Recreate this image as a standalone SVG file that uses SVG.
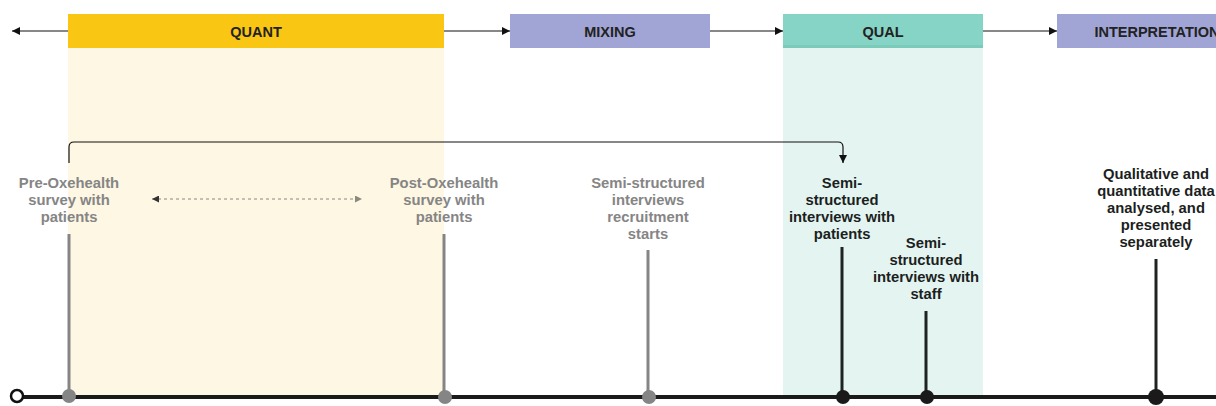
<svg xmlns="http://www.w3.org/2000/svg" width="1216" height="406" viewBox="0 0 1216 406">
<style>
.phase{font-family:"Liberation Sans",Arial,sans-serif;font-weight:bold;font-size:14.5px;fill:#222;text-anchor:middle}
.lbl{font-family:"Liberation Sans",Arial,sans-serif;font-weight:bold;font-size:14.8px;text-anchor:middle}
.g{fill:#858585}
.d{fill:#1c1f1e}
.vg{stroke:#858585;stroke-width:3}
.vd{stroke:#1c2321;stroke-width:3}
.conn{stroke:#111;stroke-width:1.2;fill:none}
</style>
<defs>
<marker id="ah" viewBox="0 0 10 10" refX="10" refY="5" markerWidth="10" markerHeight="8" markerUnits="userSpaceOnUse" orient="auto">
<path d="M0,0 L10,5 L0,10 z" fill="#111"/>
</marker>
<marker id="ahg" viewBox="0 0 10 10" refX="10" refY="5" markerWidth="10" markerHeight="7" markerUnits="userSpaceOnUse" orient="auto">
<path d="M0,0 L10,5 L0,10 z" fill="#8a8a80"/>
</marker>
<marker id="ahgs" viewBox="0 0 10 10" refX="10" refY="5" markerWidth="10" markerHeight="7" markerUnits="userSpaceOnUse" orient="auto-start-reverse">
<path d="M0,0 L10,5 L0,10 z" fill="#333"/>
</marker>
</defs>
<rect width="1216" height="406" fill="#fff"/>
<g id="bands">
<rect x="68" y="48" width="376" height="348" fill="#fef7e3"/>
<rect x="783" y="48" width="200" height="348" fill="#e4f5f1"/>
</g>
<g id="connectors">
<line class="conn" x1="68" y1="31" x2="12" y2="31" marker-end="url(#ah)"/>
<line class="conn" x1="444" y1="31" x2="510" y2="31" marker-end="url(#ah)"/>
<line class="conn" x1="710" y1="31" x2="783" y2="31" marker-end="url(#ah)"/>
<line class="conn" x1="983" y1="31" x2="1057" y2="31" marker-end="url(#ah)"/>
<path class="conn" d="M69,163 V147 Q69,142 74,142 H838 Q843,142 843,147 V163" marker-end="url(#ah)"/>
<line x1="152" y1="199" x2="362" y2="199" stroke="#8a8a80" stroke-width="1.2" stroke-dasharray="3,3" marker-start="url(#ahgs)" marker-end="url(#ahg)"/>
</g>
<g id="quant"><rect x="68" y="14" width="376" height="34" fill="#f9c713"/><text class="phase" x="256" y="37">QUANT</text></g>
<g id="mixing"><rect x="510" y="14" width="200" height="34" fill="#a0a5d6"/><text class="phase" x="610" y="37">MIXING</text></g>
<g id="qual"><rect x="783" y="14" width="200" height="34" fill="#86d4c5"/><rect x="783" y="45" width="200" height="3" fill="#7ccab9"/><text class="phase" x="883" y="37">QUAL</text></g>
<g id="interpretation"><rect x="1057" y="14" width="200" height="34" fill="#a0a5d6"/><text class="phase" x="1157" y="37">INTERPRETATION</text></g>
<g id="timeline">
<line x1="23" y1="397" x2="1216" y2="397" stroke="#1a1a1a" stroke-width="4"/>
<circle cx="17" cy="396" r="6" fill="#fff" stroke="#111" stroke-width="2.5"/>
</g>
<g id="pre-survey">
<text class="lbl g" x="69" y="188">Pre-Oxehealth</text>
<text class="lbl g" x="69" y="205">survey with</text>
<text class="lbl g" x="69" y="222">patients</text>
<line class="vg" x1="69" y1="234" x2="69" y2="396"/>
<circle cx="69" cy="396" r="7" fill="#858585"/>
</g>
<g id="post-survey">
<text class="lbl g" x="444" y="188">Post-Oxehealth</text>
<text class="lbl g" x="444" y="205">survey with</text>
<text class="lbl g" x="444" y="222">patients</text>
<line class="vg" x1="444" y1="234" x2="444" y2="396"/>
<circle cx="445" cy="397" r="7" fill="#858585"/>
</g>
<g id="recruitment">
<text class="lbl g" x="648" y="188">Semi-structured</text>
<text class="lbl g" x="648" y="205">interviews</text>
<text class="lbl g" x="648" y="222">recruitment</text>
<text class="lbl g" x="648" y="239">starts</text>
<line class="vg" x1="648" y1="250" x2="648" y2="396"/>
<circle cx="649" cy="397" r="7" fill="#858585"/>
</g>
<g id="interviews-patients">
<text class="lbl d" x="842" y="188">Semi-</text>
<text class="lbl d" x="842" y="205">structured</text>
<text class="lbl d" x="842" y="222">interviews with</text>
<text class="lbl d" x="842" y="239">patients</text>
<line class="vd" x1="842" y1="247" x2="842" y2="396"/>
<circle cx="843" cy="397" r="7" fill="#1a1a1a"/>
</g>
<g id="interviews-staff">
<text class="lbl d" x="926" y="248">Semi-</text>
<text class="lbl d" x="926" y="265">structured</text>
<text class="lbl d" x="926" y="282">interviews with</text>
<text class="lbl d" x="926" y="299">staff</text>
<line class="vd" x1="926" y1="311" x2="926" y2="396"/>
<circle cx="927" cy="397" r="7" fill="#1a1a1a"/>
</g>
<g id="analysis">
<text class="lbl d" x="1156" y="179">Qualitative and</text>
<text class="lbl d" x="1156" y="196">quantitative data</text>
<text class="lbl d" x="1156" y="213">analysed, and</text>
<text class="lbl d" x="1156" y="230">presented</text>
<text class="lbl d" x="1156" y="247">separately</text>
<line class="vd" x1="1156" y1="259" x2="1156" y2="396"/>
<circle cx="1156" cy="397" r="8" fill="#1a1a1a"/>
</g>
</svg>
